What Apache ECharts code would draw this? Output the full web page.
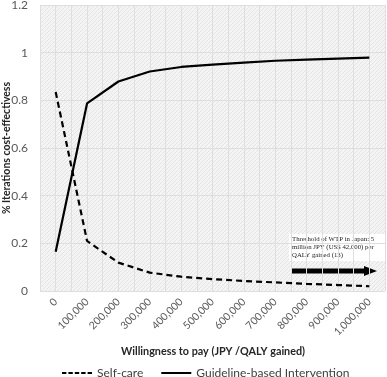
<!DOCTYPE html>
<html><head><meta charset="utf-8">
<script src="https://cdn.jsdelivr.net/npm/echarts@6/dist/echarts.min.js"></script>
<style>html,body{margin:0;padding:0;background:#fff}#c{width:387px;height:377px}</style>
</head><body><div id="c"></div>
<script>
const categories = ['0','100,000','200,000','300,000','400,000','500,000','600,000','700,000','800,000','900,000','1,000,000'];
const selfCare = [0.835,0.21,0.119,0.077,0.06,0.05,0.042,0.036,0.03,0.025,0.02];
const guideline = [0.165,0.787,0.879,0.921,0.94,0.95,0.958,0.966,0.971,0.975,0.979];
const yTicks = [0,0.2,0.4,0.6,0.8,1,1.2];
const xTitle = 'Willingness to pay (JPY /QALY gained)';
const annotationText = 'Threshold of WTP in Japan: 5\nmillion JPY (US$ 42,000) per\nQALY gained (13)';

// hatched background pattern
const pc = document.createElement('canvas');
pc.width = 4; pc.height = 4;
const px = pc.getContext('2d');
px.fillStyle = '#f4f4f4'; px.fillRect(0,0,4,4);
px.fillStyle = '#e4e4e4';
px.fillRect(3,0,1,1); px.fillRect(2,1,1,1); px.fillRect(1,2,1,1); px.fillRect(0,3,1,1);

const font = 'Lato';
const dashIcon = 'path://M0,0h4.4v2h-4.4z M6.4,0h4.4v2h-4.4z M12.8,0h4.4v2h-4.4z M19.2,0h4.4v2h-4.4z M25.6,0h4.4v2h-4.4z';
const solidIcon = 'path://M0,0h30v2h-30z';
const chart = echarts.init(document.getElementById('c'));
chart.setOption({
  animation: false,
  textStyle: {fontFamily: font},
  grid: {left: 40, right: 2, top: 5, bottom: 86, show: true, borderWidth: 0, containLabel: false,
         outerBoundsMode: 'none',
         backgroundColor: {image: pc, repeat: 'repeat'}},
  xAxis: [{
    type: 'category', data: categories, boundaryGap: true,
    axisLine: {show: false}, axisTick: {show: false},
    axisLabel: {rotate: 45, color: '#595959', fontSize: 10.5, margin: 9, interval: 0, fontFamily: font},
    splitLine: {show: false}
  }, {
    type: 'value', min: 0, max: 22, interval: 1, show: true, position: 'bottom',
    axisLine: {show: false}, axisTick: {show: false}, axisLabel: {show: false},
    splitLine: {show: true, lineStyle: {color: '#dedede', width: 1}}
  }],
  yAxis: {
    type: 'value', min: 0, max: 1.2, interval: 0.2,
    axisLine: {show: false}, axisTick: {show: false},
    axisLabel: {color: '#595959', fontSize: 12, margin: 12, fontFamily: font,
      formatter: v => { const t = yTicks.find(x => Math.abs(x - v) < 1e-9); return String(t); }},
    splitLine: {lineStyle: {color: '#dedede', width: 1}},
    name: '% Iterations cost-effectivess', nameLocation: 'middle', nameGap: 28,
    nameMoveOverlap: false,
    nameTextStyle: {fontWeight: 'bold', fontSize: 10.5, color: '#262626', fontFamily: font}
  },
  legend: {
    bottom: -2, left: 62, padding: 0, itemWidth: 30, itemHeight: 2, itemGap: 18,
    textStyle: {color: '#404040', fontSize: 12, fontFamily: font},
    data: [{name: 'Self-care', icon: dashIcon}, {name: 'Guideline-based Intervention', icon: solidIcon}]
  },
  series: [{
    name: 'Self-care', type: 'line', data: selfCare, symbol: 'none',
    lineStyle: {color: '#000', width: 2.2, type: [6, 4]}, itemStyle: {color: '#000'}
  }, {
    name: 'Guideline-based Intervention', type: 'line', data: guideline, symbol: 'none',
    lineStyle: {color: '#000', width: 2.2, type: 'solid'}, itemStyle: {color: '#000'}
  }],
  graphic: [
    {type: 'text', x: 213, y: 352, style: {text: xTitle, font: 'bold 10.8px Lato', fill: '#262626', align: 'center', verticalAlign: 'middle'}},
    {type: 'rect', shape: {x: 289, y: 234, width: 96, height: 27}, style: {fill: '#fff'}},
    {type: 'text', x: 292, y: 235, style: {text: annotationText, font: '6.8px "Liberation Serif"', fill: '#222', lineHeight: 8}},
    {type: 'polygon', shape: {points: [[292,268.5],[364,268.5],[364,266],[377,271],[364,276],[364,273.5],[292,273.5]]}, style: {fill: '#000'}}
  ]
});
</script></body></html>
